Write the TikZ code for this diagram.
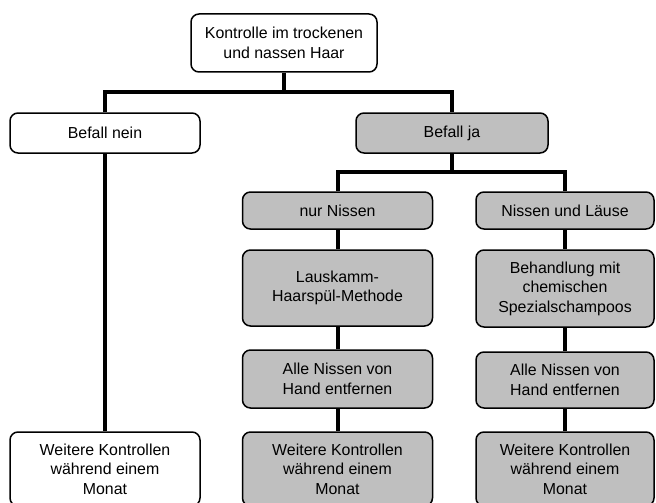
\documentclass[tikz,border=0pt]{standalone}
\usepackage{fontspec}
\setmainfont{Liberation Sans}
\tikzset{
  box/.style={draw, rounded corners=8pt, line width=1.5pt, align=center, inner sep=0pt,
    minimum width=190, font=\fontsize{15.9}{19.5}\selectfont},
  befall/.style={box, fill=gray!50},
  conn/.style={line width=4pt},
}
\begin{document}
\begin{tikzpicture}[x=1pt,y=-1pt]
			\useasboundingbox (0,0) rectangle (656,503);
			\clip (0,0) rectangle (656,503);
			\node[box, minimum width=186, minimum height=58] (kontrolle) at (284,43) {Kontrolle im trockenen\\und nassen Haar};
			\node[box, minimum height=40] (nein) at (105,133) {Befall nein};
			\node[befall, minimum width=192, minimum height=40] (ja) at (452,133) {Befall ja};
			\node[befall, minimum height=37] (nur) at (337.5,210.5) {nur Nissen};
			\node[befall, minimum width=178, minimum height=37] (nul) at (565,210.5) {Nissen und L\"ause};
			\node[befall, minimum height=76] (kamm) at (337.5,288) {Lauskamm-\\Haarsp\"ul-Methode};
			\node[befall, minimum width=178, minimum height=77] (chemie) at (565,288.5) {Behandlung mit\\chemischen\\Spezialschampoos};
			\node[befall, minimum height=58] (handA) at (337.5,379) {Alle Nissen von\\Hand entfernen};
			\node[befall, minimum width=178, minimum height=56] (handB) at (565,380) {Alle Nissen von\\Hand entfernen};
			\node[box, minimum height=74] (weiterA) at (105,469) {Weitere Kontrollen\\w\"ahrend einem\\Monat};
			\node[befall, minimum height=74] (weiterB) at (337.5,469) {Weitere Kontrollen\\w\"ahrend einem\\Monat};
			\node[befall, minimum width=178, minimum height=74] (weiterC) at (565,469) {Weitere Kontrollen\\w\"ahrend einem\\Monat};
			\coordinate (gabelA) at (284,92);
			\coordinate (gabelB) at (452,172);
			\draw[conn] (kontrolle.south) -- (gabelA);
			\draw[conn] (nein.north) |- (gabelA) -| (ja.north);
			\draw[conn] (ja.south) -- (gabelB);
			\draw[conn] (nur.north) |- (gabelB) -| (nul.north);
			\foreach \a/\b in {nein/weiterA, nur/kamm, kamm/handA, handA/weiterB, nul/chemie, chemie/handB, handB/weiterC}{
				\draw[conn] (\a.south) -- (\b.north);
			}
		\end{tikzpicture}
\end{document}
